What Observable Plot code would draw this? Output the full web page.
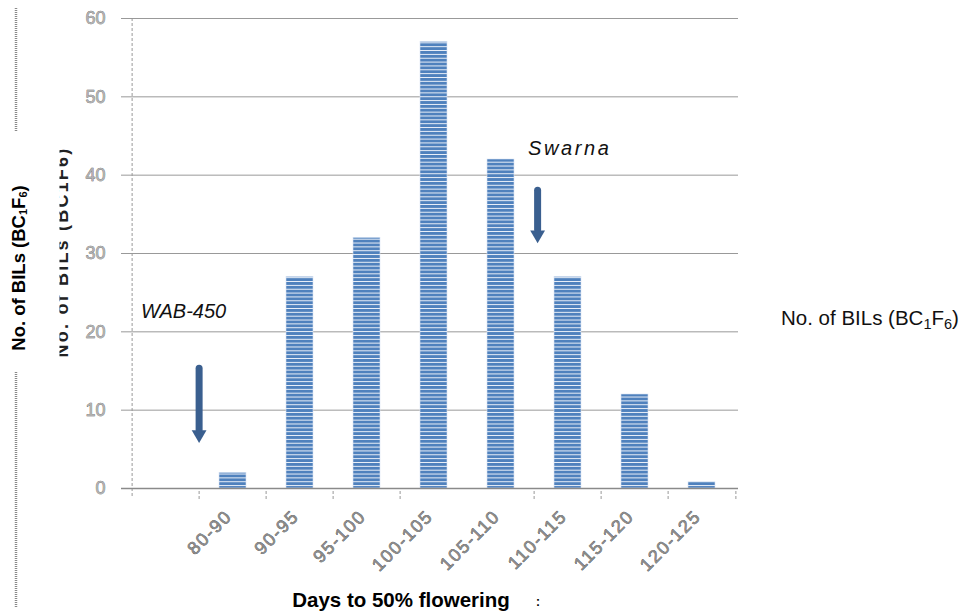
<!DOCTYPE html>
<html><head><meta charset="utf-8">
<script src="https://cdn.jsdelivr.net/npm/d3@7"></script>
<script src="https://cdn.jsdelivr.net/npm/@observablehq/plot@0.6"></script>
<style>
body{margin:0;background:#fff;font-family:"Liberation Sans",Arial,sans-serif}
#wrap{position:relative;width:959px;height:611px}
</style>
</head><body>
<svg width="0" height="0" style="position:absolute"><defs>
<pattern id="stripes" patternUnits="userSpaceOnUse" width="8" height="3.85">
<rect width="8" height="3.85" fill="#4f81bd"/><rect width="8" height="0.95" fill="#eef3fa"/>
</pattern></defs></svg>
<div id="wrap"></div>
<script>
// ---- data ----
const categories = ["", "80-90", "90-95", "95-100", "100-105", "105-110", "110-115", "115-120", "120-125"];
const counts = [null, 2, 27, 32, 57, 42, 27, 12, 0.8];
const yTicks = [0, 10, 20, 30, 40, 50, 60];
const tickEdges = ["", "80-90", "90-95", "95-100", "100-105", "110-115", "115-120", "120-125"];
const wabLabel = [{x: "", y: 22.6, text: "WAB-450"}];
const swarnaLabel = [{x: "110-115", y: 43.4, text: "Swarna"}];
const wabArrow = [{x: "80-90", top: 15.3, end: 7.4, head: 6.9}];
const swarnaArrow = [{x: "110-115", top: 38.0, end: 33.0, head: 32.4}];
const yTitle = ["No. of BILs (BC", "1", "F", "6", ")"];
const xTitle = "Days to 50% flowering";

const bars = categories.map((c, i) => ({range: c, count: counts[i]})).filter(d => d.count != null);

const W = 959, H = 611, mL = 128, mR = 221, mT = 18, mB = 123;
const step = (W - mL - mR) / categories.length;
const arrowColor = "#3a5f8f";

const plot = Plot.plot({
  width: W, height: H,
  marginLeft: mL, marginRight: mR, marginTop: mT, marginBottom: mB,
  style: {fontFamily: "Liberation Sans, Arial, sans-serif", background: "transparent", overflow: "visible"},
  x: {domain: categories, padding: 0, axis: null},
  y: {domain: [0, 60], axis: null},
  marks: [
    Plot.ruleY(yTicks.filter(d => d > 0), {y: d => d, stroke: "#999", strokeWidth: 1, insetLeft: -7}),
    Plot.ruleX([""], {x: d => d, dx: -step / 2, y1: 60, y2: 0, insetBottom: -9, stroke: "#999", strokeDasharray: "3,2"}),
    Plot.ruleX(tickEdges.slice(1), {x: d => d, dx: -step / 2, y1: 0, y2: 0, insetTop: 3, insetBottom: -11, stroke: "#999", strokeDasharray: "3,2"}),
    Plot.ruleX(["120-125"], {x: d => d, dx: step / 2, y1: 0, y2: 0, insetTop: 3, insetBottom: -11, stroke: "#999", strokeDasharray: "3,2"}),
    Plot.barY(bars, {x: "range", y: "count", fill: "url(#stripes)", insetLeft: 20, insetRight: 20, stroke: "#dbe5f3", strokeWidth: 0.6}),
    Plot.ruleY([0], {stroke: "#8a8a8a", strokeWidth: 1.6, insetLeft: -7}),
    Plot.text(yTicks, {y: d => d, text: d => String(d), frameAnchor: "left", textAnchor: "end", dx: -23, fontSize: 18, fill: "#b0b0b0", stroke: "#4a4a4a", strokeWidth: 0.5}),
    Plot.text(categories.slice(1), {x: d => d, text: d => d, frameAnchor: "bottom", rotate: -45, textAnchor: "end", dy: 29, dx: 0, fontSize: 18, fill: "#8a8a8a", stroke: "#222", strokeWidth: 0.5}),
    // arrows
    Plot.ruleX(wabArrow, {x: "x", y1: "top", y2: "end", dx: -step / 2, stroke: arrowColor, strokeWidth: 7, strokeLinecap: "round"}),
    Plot.dot(wabArrow, {x: "x", y: "head", dx: -step / 2, symbol: "triangle", rotate: 180, r: 5.5, fill: arrowColor, stroke: "none"}),
    Plot.ruleX(swarnaArrow, {x: "x", y1: "top", y2: "end", dx: -step / 2 + 3.5, stroke: arrowColor, strokeWidth: 7, strokeLinecap: "round"}),
    Plot.dot(swarnaArrow, {x: "x", y: "head", dx: -step / 2 + 3.5, symbol: "triangle", rotate: 180, r: 5.5, fill: arrowColor, stroke: "none"}),
    // annotations
    Plot.text(wabLabel, {x: "x", y: "y", text: "text", textAnchor: "start", dx: -25, fontSize: 20, fontStyle: "italic", fill: "#111"}),
    Plot.text(swarnaLabel, {x: "x", y: "y", text: "text", textAnchor: "start", dx: -40, fontSize: 20, fontStyle: "italic", fill: "#111"})
  ]
});

document.getElementById("wrap").appendChild(plot);
const svg = d3.select(plot);
const font = "Liberation Sans, Arial, sans-serif";

// letter spacing for the x tick labels and the Swarna label
const textGroups = svg.selectAll('g[aria-label="text"]').nodes();
if (textGroups[1]) d3.select(textGroups[1]).attr("letter-spacing", 1.6);
if (textGroups[3]) d3.select(textGroups[3]).attr("letter-spacing", 2.6);

// dotted separators at far left
[[8, 132], [372, 608]].forEach(([a, b]) => {
  svg.append("line").attr("x1", 16).attr("x2", 16).attr("y1", a).attr("y2", b)
    .attr("stroke", "#8a8a8a").attr("stroke-width", 2.5).attr("stroke-dasharray", "1,1");
});

function addTitle(g, parts, size, subSize, shift) {
  parts.forEach((p, i) => {
    const sub = i === 1 || i === 3;
    g.append("tspan").text(p)
      .attr("font-size", sub ? subSize : size)
      .attr("dy", sub ? shift : (i === 2 || i === 4 ? -shift : 0));
  });
}
// main bold y title with subscripts
const t1 = svg.append("text").attr("transform", "translate(25,268) rotate(-90)")
  .attr("text-anchor", "middle").attr("font-family", font).attr("font-weight", "bold").attr("fill", "#000");
addTitle(t1, yTitle, 18.5, 11, 2);

// clipped duplicate title
svg.append("clipPath").attr("id", "clipL").append("rect").attr("x", 59.5).attr("y", 0).attr("width", 20).attr("height", 611);
svg.append("g").attr("clip-path", "url(#clipL)")
  .append("text").attr("transform", "translate(68,252) rotate(-90)")
  .attr("text-anchor", "middle").attr("font-family", font).attr("font-weight", "bold")
  .attr("font-size", 18).attr("letter-spacing", 2.2).attr("fill", "#222")
  .text(yTitle.join(""));

// right label
const t3 = svg.append("text").attr("x", 781).attr("y", 325).attr("text-anchor", "start")
  .attr("font-family", font).attr("fill", "#111");
addTitle(t3, yTitle, 20.5, 14.5, 4);

// x title
svg.append("text").attr("x", 401).attr("y", 607).attr("text-anchor", "middle")
  .attr("font-family", font).attr("font-weight", "bold").attr("font-size", 20.5).attr("fill", "#000").text(xTitle);
svg.append("text").attr("x", 538).attr("y", 606).attr("text-anchor", "middle")
  .attr("font-family", font).attr("font-weight", "bold").attr("font-size", 12).attr("fill", "#000").text(":");
</script>
</body></html>
